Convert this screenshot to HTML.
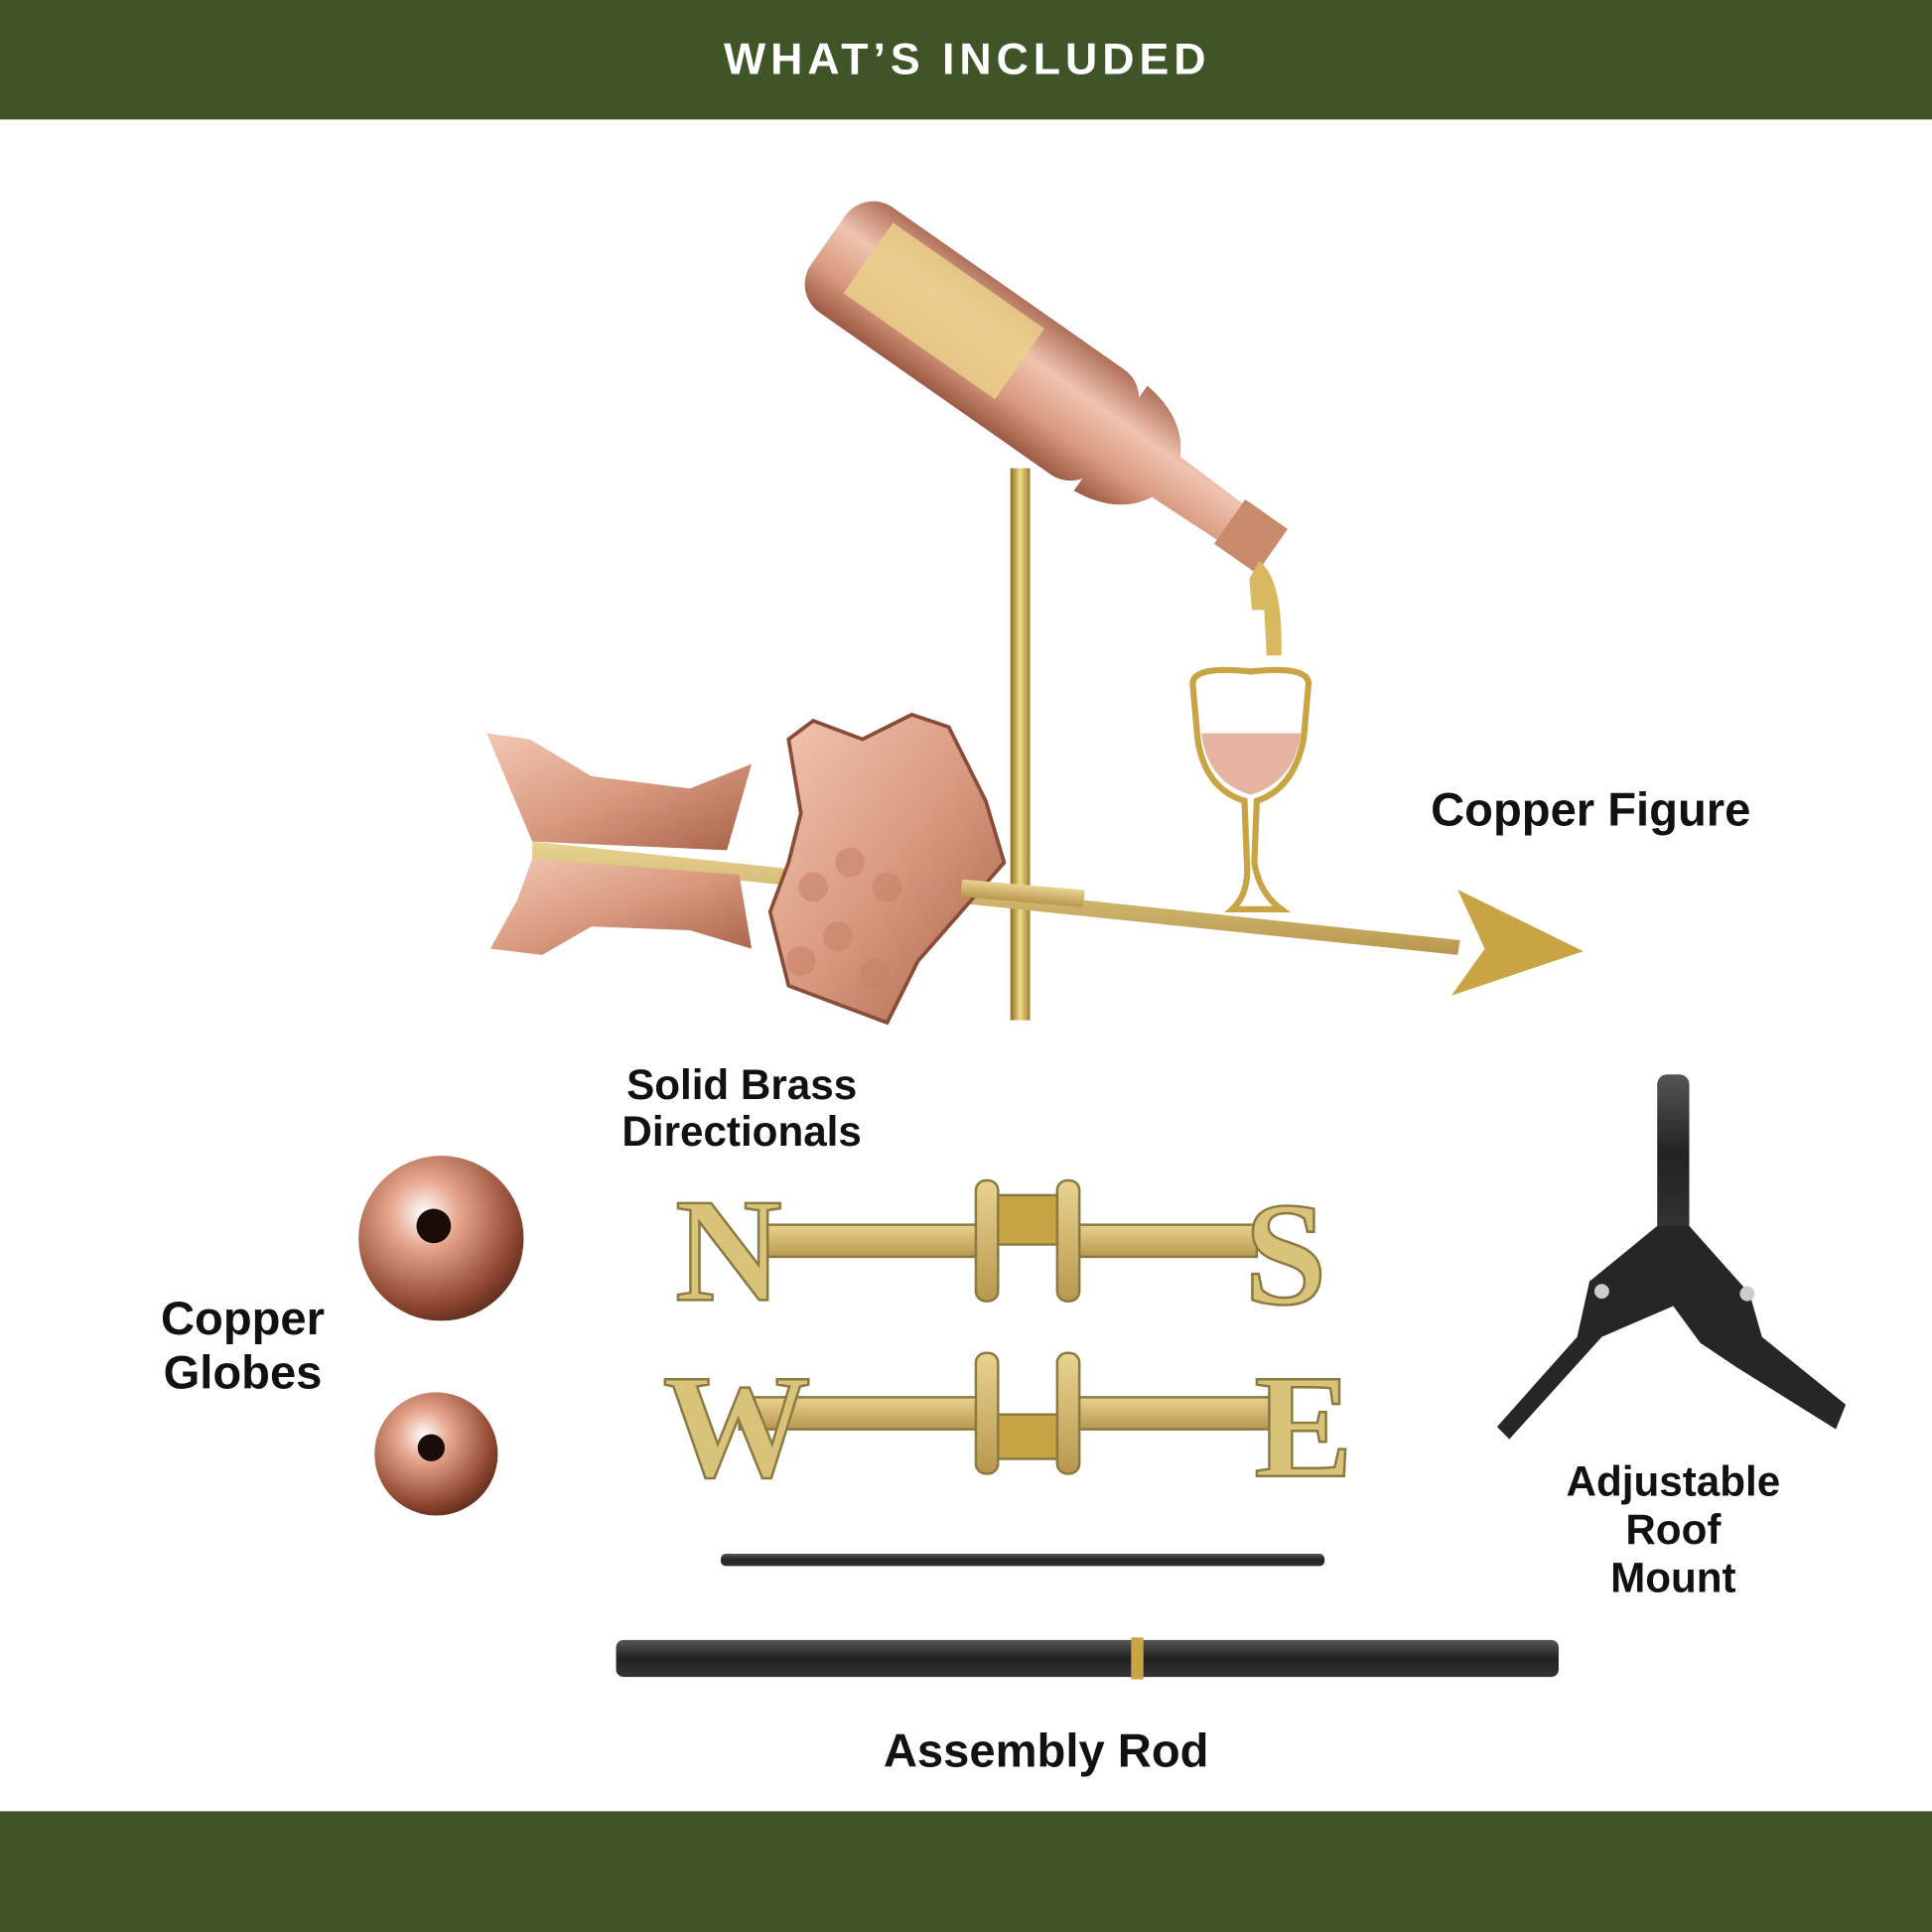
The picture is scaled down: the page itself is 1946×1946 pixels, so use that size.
<!DOCTYPE html>
<html><head><meta charset="utf-8"><style>
html,body{margin:0;padding:0;background:#fff;}
svg{display:block;}
text{font-family:"Liberation Sans",sans-serif;font-weight:bold;fill:#111;}
</style></head><body>
<svg width="1946" height="1946" viewBox="0 0 1568 1568" xmlns="http://www.w3.org/2000/svg">
<defs>
<linearGradient id="cu" x1="0" y1="0" x2="1" y2="1">
<stop offset="0" stop-color="#f3c7b3"/><stop offset="0.5" stop-color="#d99a80"/><stop offset="1" stop-color="#a8624a"/></linearGradient>
<linearGradient id="cub" x1="0" y1="0" x2="0" y2="1">
<stop offset="0" stop-color="#b0705a"/><stop offset="0.35" stop-color="#f0c4b0"/><stop offset="0.7" stop-color="#d99a80"/><stop offset="1" stop-color="#9a5a44"/></linearGradient>
<linearGradient id="br" x1="0" y1="0" x2="1" y2="0">
<stop offset="0" stop-color="#8a6a20"/><stop offset="0.5" stop-color="#f2dc8a"/><stop offset="1" stop-color="#9a7a2a"/></linearGradient>
<linearGradient id="brs" x1="0" y1="0" x2="0" y2="1">
<stop offset="0" stop-color="#e9d391"/><stop offset="1" stop-color="#b8984e"/></linearGradient>
<radialGradient id="gl" cx="0.4" cy="0.35" r="0.7">
<stop offset="0" stop-color="#fff"/><stop offset="0.3" stop-color="#e6a58c"/><stop offset="0.8" stop-color="#8e4630"/><stop offset="1" stop-color="#5a2a1c"/></radialGradient>
<linearGradient id="bk" x1="0" y1="0" x2="0" y2="1">
<stop offset="0" stop-color="#555"/><stop offset="0.5" stop-color="#222"/><stop offset="1" stop-color="#333"/></linearGradient>
</defs>
<rect width="1568" height="97" fill="#3f5528"/>
<text x="785" y="60" font-size="36" text-anchor="middle" fill="#fff" style="fill:#fff;letter-spacing:4px">WHAT’S INCLUDED</text>
<rect y="1470" width="1568" height="98" fill="#3f5528"/>

<!-- rod -->
<rect x="820" y="380" width="16" height="448" fill="url(#br)"/>
<!-- bottle -->
<g transform="translate(672,195) rotate(35)">
<rect x="0" y="-52" width="285" height="104" rx="28" fill="url(#cub)"/>
<rect x="35" y="-42" width="150" height="70" fill="#ead08a" opacity="0.85"/>
<path d="M280,-52 Q320,-48 335,-20 L400,-18 L400,18 L335,20 Q320,48 280,52 Z" fill="url(#cub)"/>
<rect x="398" y="-22" width="42" height="44" fill="#c98a6c"/>
</g>
<path d="M1022,455 Q1040,470 1040,520 L1040,532 L1028,532 L1026,495 L1016,495 L1014,470 Z" fill="#d8b860"/>
<!-- glass -->
<path d="M968,555 Q968,540 1015,545 Q1062,540 1062,555 L1058,600 Q1050,640 1020,650 L1018,700 Q1022,725 1040,738 L1000,738 Q1014,725 1012,700 L1010,650 Q978,640 972,600 Z" fill="#fff" stroke="#c9a444" stroke-width="5"/>
<path d="M975,595 L1056,595 Q1050,635 1015,645 Q980,635 975,595 Z" fill="#e6b3a0"/>
<!-- arrow shaft -->
<polygon points="432,683 1185,763 1183,775 432,697" fill="url(#brs)"/>
<polygon points="1183,722 1285,772 1178,808 1205,770" fill="#c9a444"/>
<!-- tail feathers -->
<polygon points="395,595 430,600 480,630 560,640 610,620 590,690 432,683" fill="url(#cu)"/>
<polygon points="432,697 600,710 610,770 560,755 480,752 440,775 398,770 420,730" fill="url(#cu)"/>
<!-- grapes -->
<path d="M640,600 L660,585 L700,600 L740,580 L770,590 L800,650 L815,700 L780,740 L745,780 L720,830 L680,815 L640,800 L625,740 L640,700 L650,660 Z" fill="url(#cu)" stroke="#8a4c38" stroke-width="3"/>
<g fill="#c7836a" opacity="0.6">
<circle cx="660" cy="720" r="12"/><circle cx="690" cy="700" r="12"/><circle cx="720" cy="720" r="12"/><circle cx="680" cy="760" r="12"/><circle cx="710" cy="790" r="12"/><circle cx="650" cy="780" r="12"/></g>
<rect x="780" y="718" width="100" height="14" fill="url(#brs)" transform="rotate(5 830 725)"/>

<text x="1291" y="670" font-size="38" text-anchor="middle">Copper Figure</text>
<text x="602" y="892" font-size="34" text-anchor="middle">Solid Brass</text>
<text x="602" y="930" font-size="34" text-anchor="middle">Directionals</text>
<text x="197" y="1083" font-size="38" text-anchor="middle">Copper</text>
<text x="197" y="1127" font-size="38" text-anchor="middle">Globes</text>
<text x="849" y="1434" font-size="38" text-anchor="middle">Assembly Rod</text>
<text x="1358" y="1214" font-size="34" text-anchor="middle">Adjustable</text>
<text x="1358" y="1253" font-size="34" text-anchor="middle">Roof</text>
<text x="1358" y="1292" font-size="34" text-anchor="middle">Mount</text>

<!-- globes -->
<circle cx="358" cy="1005" r="67" fill="url(#gl)"/><circle cx="352" cy="995" r="14" fill="#1a0d08"/>
<circle cx="354" cy="1180" r="50" fill="url(#gl)"/><circle cx="350" cy="1175" r="11" fill="#1a0d08"/>

<!-- directionals -->
<g fill="url(#brs)" stroke="#8a7a40" stroke-width="2">
<rect x="620" y="994" width="180" height="26"/><rect x="870" y="994" width="150" height="26"/>
<rect x="792" y="958" width="18" height="98" rx="8"/><rect x="858" y="958" width="18" height="98" rx="8"/>
<rect x="810" y="970" width="48" height="40" fill="#c9a444"/>
<rect x="600" y="1134" width="200" height="26"/><rect x="870" y="1134" width="160" height="26"/>
<rect x="792" y="1098" width="18" height="98" rx="8"/><rect x="858" y="1098" width="18" height="98" rx="8"/>
<rect x="810" y="1148" width="48" height="36" fill="#c9a444"/>
</g>
<g style="stroke:#8a7a40;stroke-width:2">
<text x="548" y="1055" font-size="120" style="font-family:'Liberation Serif',serif;fill:#d9c27a">N</text>
<text x="1010" y="1058" font-size="120" style="font-family:'Liberation Serif',serif;fill:#d9c27a">S</text>
<text x="538" y="1198" font-size="120" style="font-family:'Liberation Serif',serif;fill:#d9c27a">W</text>
<text x="1018" y="1198" font-size="120" style="font-family:'Liberation Serif',serif;fill:#d9c27a">E</text>
</g>

<!-- rods -->
<rect x="585" y="1261" width="490" height="10" rx="4" fill="url(#bk)"/>
<rect x="500" y="1331" width="765" height="30" rx="6" fill="url(#bk)"/>
<rect x="918" y="1329" width="10" height="34" fill="#c9a444"/>

<!-- roof mount -->
<rect x="1345" y="872" width="26" height="130" rx="8" fill="url(#bk)"/>
<path d="M1345,995 L1371,995 L1420,1050 L1430,1085 L1498,1140 L1490,1160 L1410,1110 L1380,1090 L1358,1060 L1300,1085 L1225,1168 L1215,1158 L1280,1085 L1290,1040 Z" fill="#262626"/>
<circle cx="1300" cy="1048" r="6" fill="#ccc"/><circle cx="1418" cy="1050" r="6" fill="#ccc"/>
</svg>
</body></html>
